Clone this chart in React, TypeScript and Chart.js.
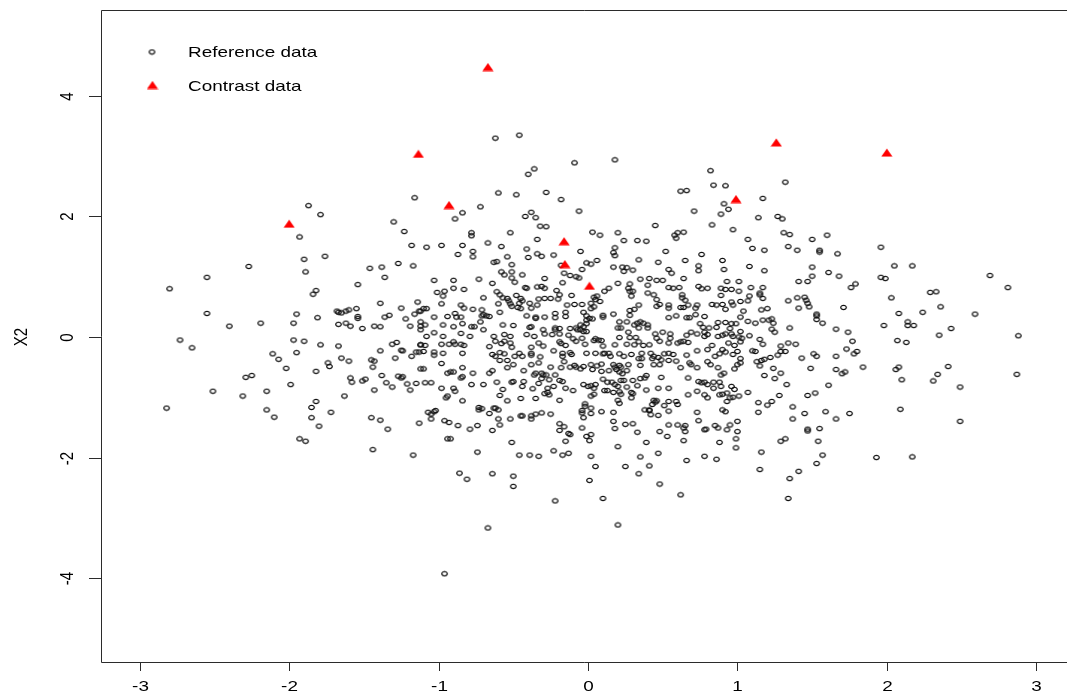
import React, { useEffect, useRef } from 'react';
import { Chart, registerables } from 'chart.js';

Chart.register(...registerables);

const xTicks = [-3, -2, -1, 0, 1, 2, 3];
const yTicks = [-4, -2, 0, 2, 4];
const xRange = [-3.259, 3.172];
const yRange = [-5.394, 5.427];
const yTitle = 'X2';
const legendLabels = ['Reference data', 'Contrast data'];

const contrastPoints: [number, number][] = [
  [-2.0, 1.88], [-1.135, 3.04], [-0.67, 4.48], [-0.93, 2.19], [-0.16, 1.59],
  [-0.155, 1.21], [0.01, 0.85], [0.99, 2.29], [1.26, 3.23], [2.0, 3.06],
];

const referenceLeft: [number, number][] = [
  [-1.93,1.66],[-1.23,1.75],[-1.18,1.52],[-1.90,1.29],[-1.76,1.34],[-2.27,1.17],[-1.89,1.08],[-1.46,1.14],[-1.38,1.16],[-1.27,1.22],[-1.17,1.18],[-2.55,0.99],[-1.36,0.99],[-2.80,0.80],[-1.54,0.87],[-1.82,0.77],[-1.84,0.71],[-1.39,0.56],[-1.14,0.58],[-1.68,0.43],[-1.67,0.41],[-1.65,0.40],[-1.62,0.43],[-1.60,0.45],[-1.55,0.47],[-1.25,0.48],[-2.55,0.39],[-1.95,0.38],[-1.81,0.32],[-1.54,0.34],[-1.54,0.31],[-1.36,0.33],[-1.33,0.36],[-1.22,0.30],[-1.16,0.38],[-1.13,0.43],[-2.40,0.18],[-2.19,0.23],[-1.97,0.23],[-1.67,0.21],[-1.62,0.23],[-1.59,0.18],[-1.51,0.14],[-1.43,0.18],[-1.39,0.17],[-1.19,0.18],[-1.12,0.18],[-2.73,-0.05],[-2.65,-0.18],[-1.97,-0.05],[-1.90,-0.07],[-1.79,-0.13],[-1.67,-0.15],[-1.95,-0.26],[-2.11,-0.28],[-2.07,-0.37],[-2.02,-0.52],[-1.39,-0.23],[-1.31,-0.12],[-1.28,-0.09],[-1.25,-0.22],[-1.24,-0.23],[-1.15,-0.25],[-1.13,-0.25],[-1.12,-0.13],[-1.29,-0.35],[-1.18,-0.32],[-1.65,-0.35],[-1.60,-0.40],[-1.74,-0.43],[-1.73,-0.49],[-1.82,-0.57],[-1.45,-0.38],[-1.43,-0.40],[-1.44,-0.50],[-1.12,-0.53],[-2.29,-0.67],[-2.25,-0.64],[-1.99,-0.79],[-1.59,-0.68],[-1.58,-0.75],[-1.51,-0.73],[-1.49,-0.70],[-1.38,-0.64],[-1.35,-0.76],[-1.31,-0.83],[-1.27,-0.65],[-1.25,-0.68],[-1.24,-0.66],[-1.21,-0.78],[-1.15,-0.77],[-1.19,-0.88],[-1.43,-0.88],[-2.51,-0.90],[-2.31,-0.98],[-2.15,-0.90],[-1.63,-0.98],[-2.82,-1.18],[-1.82,-1.07],[-1.85,-1.17],[-2.15,-1.21],[-2.10,-1.33],[-1.72,-1.25],[-1.85,-1.34],[-1.80,-1.48],[-1.45,-1.34],[-1.39,-1.38],[-1.34,-1.53],[-1.13,-1.43],[-1.93,-1.69],[-1.89,-1.73],
  [-1.87,2.18],[-1.79,2.03],[-1.30,1.91],[-1.16,2.31],[-1.44,-1.87],[-1.17,-1.96],
];

const referenceTop: [number, number][] = [
  [1.32,2.57],[1.17,2.30],[1.14,1.98],[1.27,2.00],[1.30,1.96],
  [-0.62,3.30],[-0.46,3.35],[-0.09,2.89],[0.18,2.94],[-0.36,2.79],[-0.40,2.70],[-0.60,2.39],[-0.48,2.36],[-0.28,2.40],[-0.18,2.28],[-0.72,2.16],[-0.84,2.06],[-0.89,1.96],[-0.38,2.07],[-0.42,2.00],[-0.35,1.98],[-0.32,1.84],[-0.28,1.83],[-0.06,2.09],[0.45,1.85],[0.62,2.42],[0.66,2.43],[0.82,2.76],[0.84,2.52],[0.92,2.51],[0.71,2.09],[0.91,2.21],[0.94,2.12],[0.89,2.04],[0.83,1.86],
];

const referenceRight: [number, number][] = [
  [1.31,1.73],[1.35,1.70],[1.07,1.62],[1.50,1.62],[1.60,1.69],[1.10,1.47],[1.18,1.44],[1.34,1.50],[1.40,1.44],[1.55,1.44],[1.55,1.41],[1.67,1.38],[1.96,1.49],[2.05,1.18],[2.17,1.18],[2.69,1.02],[2.81,0.82],[1.08,1.17],[1.18,1.10],[1.50,1.16],[1.50,1.01],[1.61,1.07],[1.68,1.01],[1.41,0.92],[1.47,0.92],[1.76,0.82],[1.79,0.88],[1.96,0.99],[1.99,0.97],[1.09,0.82],[1.17,0.82],[1.15,0.73],[1.15,0.70],[1.08,0.68],[1.17,0.64],[1.07,0.60],[1.34,0.60],[1.40,0.65],[1.45,0.66],[1.46,0.61],[1.47,0.56],[1.48,0.50],[1.41,0.48],[1.71,0.49],[2.03,0.65],[2.29,0.74],[2.33,0.75],[2.36,0.50],[2.24,0.41],[2.08,0.39],[2.59,0.38],[1.04,0.43],[1.16,0.45],[1.20,0.47],[1.53,0.38],[1.53,0.35],[1.53,0.29],[1.57,0.23],[1.07,0.26],[1.12,0.23],[1.17,0.28],[1.21,0.28],[1.23,0.30],[1.24,0.23],[1.23,0.13],[1.25,0.08],[1.35,0.15],[1.66,0.13],[1.74,0.08],[1.98,0.19],[2.14,0.25],[2.14,0.19],[2.18,0.19],[2.43,0.14],[2.35,0.03],[2.88,0.02],[1.03,-0.02],[1.08,0.02],[1.15,-0.04],[1.17,-0.12],[1.29,-0.15],[1.34,-0.10],[1.39,-0.12],[1.77,-0.07],[1.73,-0.20],[1.78,-0.28],[1.80,-0.24],[2.07,-0.06],[2.13,-0.09],[1.10,-0.23],[1.12,-0.24],[1.29,-0.24],[1.32,-0.24],[1.27,-0.30],[1.22,-0.34],[1.18,-0.37],[1.16,-0.39],[1.13,-0.41],[1.15,-0.48],[1.43,-0.35],[1.51,-0.28],[1.53,-0.32],[1.66,-0.32],[1.84,-0.50],[1.49,-0.52],[1.66,-0.54],[1.72,-0.58],[1.70,-0.61],[2.06,-0.54],[2.08,-0.50],[2.41,-0.49],[2.34,-0.62],[2.31,-0.73],[2.10,-0.71],[2.49,-0.83],[2.87,-0.62],[1.24,-0.52],[1.29,-0.60],[1.25,-0.69],[1.18,-0.64],[1.33,-0.79],[1.61,-0.80],[1.07,-0.92],[1.28,-0.97],[1.47,-0.97],[1.52,-0.93],[1.14,-1.09],[1.20,-1.13],[1.23,-1.07],[1.14,-1.25],[1.37,-1.16],[1.45,-1.27],[1.59,-1.24],[1.75,-1.27],[1.37,-1.36],[1.66,-1.36],[2.09,-1.20],[2.49,-1.40],[1.47,-1.53],[1.47,-1.56],[1.55,-1.52],[1.29,-1.73],[1.32,-1.69],[1.54,-1.73],
  [1.16,-1.91],[1.57,-1.96],[1.53,-2.10],[1.93,-2.00],[2.17,-1.99],[1.15,-2.20],[1.41,-2.23],[1.35,-2.35],[1.34,-2.68],
];

const referenceBottom: [number, number][] = [
  [-0.74,-1.91],[-0.46,-1.96],[-0.39,-1.96],[-0.33,-1.98],[-0.23,-1.89],[-0.17,-1.96],[-0.13,-1.93],[0.02,-1.98],[0.20,-1.82],[0.35,-1.99],[0.47,-1.93],[0.66,-2.05],[0.78,-1.98],[0.86,-2.03],[0.99,-1.84],[-0.86,-2.26],[-0.81,-2.36],[-0.64,-2.27],[-0.50,-2.31],[-0.50,-2.48],[0.05,-2.15],[0.01,-2.38],[0.25,-2.15],[0.41,-2.14],[0.34,-2.27],[0.48,-2.44],[0.62,-2.62],[0.10,-2.68],[-0.22,-2.72],[0.20,-3.12],[-0.67,-3.17],[-0.96,-3.93],
];

const referenceCentreUpper: [number, number][] = [
  [-0.78,1.73],[-0.78,1.68],[-0.52,1.73],[0.03,1.74],[0.08,1.69],[0.20,1.73],[0.58,1.69],[0.60,1.73],[0.64,1.74],[0.59,1.64],[0.97,1.78],
  [-1.08,1.49],[-0.98,1.52],[-0.84,1.52],[-0.67,1.56],[-0.58,1.50],[-0.34,1.62],[0.24,1.60],[0.33,1.60],[0.39,1.59],
  [-0.87,1.37],[-0.77,1.42],[-0.77,1.33],[-0.54,1.33],[-0.41,1.46],[-0.40,1.32],[-0.34,1.38],[-0.31,1.34],[-0.23,1.36],[-0.05,1.42],[0.18,1.48],[0.17,1.40],[0.18,1.35],[0.52,1.42],[0.76,1.37],
  [-0.63,1.24],[-0.61,1.25],[-0.51,1.20],[-0.18,1.19],[-0.01,1.23],[0.02,1.21],[0.06,1.27],[-0.04,1.12],[0.17,1.16],[0.23,1.16],[0.26,1.15],[0.24,1.09],[0.30,1.11],[0.34,1.28],[0.47,1.24],[0.54,1.12],[0.56,1.06],[0.65,1.27],[0.74,1.18],[0.74,1.10],[0.90,1.27],[0.91,1.12],
  [-0.58,1.08],[-0.56,1.03],[-0.51,1.08],[-0.44,1.03],[-0.51,0.98],[-0.16,1.06],[-0.12,1.02],[-0.08,1.00],[-0.06,0.98],[-1.03,0.94],[-0.90,0.94],[-0.73,0.96],[-0.29,0.97],[0.35,0.96],[0.41,0.97],[0.46,0.94],[0.50,0.94],[0.64,0.97],[1.01,0.92],[0.93,0.92],
  [-0.90,0.81],[-0.83,0.79],[-0.64,0.89],[-0.49,0.91],[-0.42,0.82],[-0.41,0.81],[-0.34,0.83],[-0.31,0.84],[-0.29,0.81],[-0.21,0.77],[-0.17,0.90],[0.11,0.76],[0.14,0.81],[0.20,0.89],[0.28,0.88],[0.27,0.81],[0.30,0.76],[0.40,0.86],[0.54,0.82],[0.57,0.81],[0.61,0.82],[0.74,0.84],[0.76,0.80],[0.80,0.81],[0.89,0.81],[0.92,0.79],[0.96,0.79],[-1.01,0.74],[-0.96,0.76],[-0.97,0.68],
  [-0.70,0.65],[-0.61,0.75],[-0.59,0.70],[-0.57,0.65],[-0.54,0.64],[-0.53,0.60],[-0.48,0.69],[-0.45,0.64],[-0.44,0.60],[-0.46,0.56],[-0.39,0.56],[-0.33,0.63],[-0.29,0.64],[-0.25,0.64],[-0.20,0.63],[-0.19,0.70],[-0.11,0.69],[0.04,0.66],[0.06,0.68],[0.05,0.62],[0.02,0.56],[0.08,0.59],[0.29,0.68],[0.28,0.76],[0.40,0.73],[0.44,0.70],[0.46,0.62],[0.48,0.54],[0.63,0.70],[0.63,0.65],[0.65,0.61],[0.89,0.69],[0.96,0.58],[1.01,0.76],
  [-1.10,0.47],[-1.08,0.47],[-0.98,0.55],[-0.85,0.53],[-0.83,0.48],[-0.77,0.46],[-0.71,0.45],[-0.70,0.37],[-0.66,0.34],[-0.60,0.55],[-0.52,0.55],[-0.51,0.51],[-0.47,0.49],[-0.45,0.47],[-0.38,0.48],[-0.34,0.53],[-0.14,0.53],[-0.09,0.54],[-0.04,0.54],[0.02,0.47],[0.04,0.50],[0.34,0.53],[0.28,0.44],[0.31,0.46],[0.46,0.51],[0.54,0.53],[0.54,0.48],[0.62,0.49],[0.64,0.49],[0.67,0.53],[0.72,0.48],[0.73,0.53],[0.83,0.54],[0.86,0.53],[0.90,0.54],[0.92,0.46],[0.97,0.53],[1.02,0.59],
  [-1.12,0.43],[-1.03,0.33],[-0.94,0.34],[-0.89,0.39],[-0.88,0.33],[-0.85,0.33],[-0.71,0.35],[-0.68,0.35],[-0.59,0.41],[-0.41,0.35],[-0.35,0.33],[-0.35,0.31],[-0.29,0.33],[-0.22,0.39],[-0.22,0.32],[-0.15,0.41],[-0.15,0.34],[-0.03,0.41],[-0.01,0.35],[0.01,0.31],[-0.01,0.28],[0.03,0.30],[0.10,0.36],[0.10,0.33],[0.17,0.38],[0.21,0.25],[0.26,0.25],[0.31,0.20],[0.33,0.23],[0.35,0.25],[0.37,0.23],[0.40,0.20],[0.40,0.15],[0.28,0.36],[0.54,0.32],[0.59,0.35],[0.66,0.32],[0.68,0.32],[0.72,0.37],[0.78,0.34],[0.75,0.22],[0.81,0.15],[0.86,0.16],[0.87,0.24],[0.92,0.24],[0.96,0.22],[0.99,0.22],[1.02,0.33],
  [-1.12,0.25],[-1.09,0.20],[-0.97,0.20],[-0.90,0.17],[-0.84,0.22],[-0.78,0.17],[-0.76,0.17],[-0.72,0.25],[-0.57,0.20],[-0.50,0.19],[-0.39,0.16],[-0.38,0.17],[-0.22,0.15],[-0.22,0.12],[-0.08,0.15],[-0.05,0.20],[-0.03,0.17],[-0.01,0.22],[-0.03,0.09],[-0.07,0.12],[-0.12,0.14],
];

const referenceCentreLower: [number, number][] = [
  [-1.12,0.12],[-1.08,0.01],[-1.03,0.07],[-0.97,0.01],[-0.85,0.06],[-0.79,0.01],[-0.70,0.12],[-0.63,0.01],[-0.56,0.04],[-0.52,0.01],[-0.41,0.04],[-0.36,0.01],[-0.30,0.12],[-0.29,0.05],[-0.24,0.04],[-0.19,0.05],[-0.19,0.14],[-0.13,0.03],[-0.10,-0.03],[-0.08,-0.07],[-0.05,0.12],[-0.04,-0.02],[-0.01,0.09],[0.05,-0.03],[0.07,-0.05],[0.09,-0.06],[0.20,0.15],[0.22,0.15],[0.21,-0.01],[0.27,0.08],[0.34,0.15],[0.28,-0.01],[0.32,-0.01],[0.45,0.05],[0.46,-0.02],[0.50,0.08],[0.55,0.05],[0.55,-0.02],[0.64,-0.07],[0.66,0.03],[0.69,0.08],[0.73,0.05],[0.77,0.16],[0.78,0.08],[0.78,0.01],[0.80,0.04],[0.87,0.01],[0.90,0.03],[0.92,0.05],[0.95,0.14],[0.96,0.05],[0.97,0.01],[1.01,0.00],[1.02,0.09],
  [-1.12,-0.13],[-1.09,-0.14],[-0.98,-0.12],[-0.93,-0.12],[-0.90,-0.08],[-0.89,-0.12],[-0.85,-0.12],[-0.83,-0.14],[-0.66,-0.16],[-0.62,-0.07],[-0.58,-0.11],[-0.56,-0.07],[-0.52,-0.10],[-0.51,-0.17],[-0.38,-0.17],[-0.33,-0.10],[-0.30,-0.15],[-0.19,-0.08],[-0.18,-0.11],[-0.15,-0.14],[-0.02,-0.12],[0.04,-0.06],[0.10,-0.15],[0.18,-0.13],[0.26,-0.12],[0.31,-0.13],[0.34,-0.08],[0.37,-0.14],[0.41,-0.13],[0.48,-0.07],[0.54,-0.10],[0.60,-0.10],[0.62,-0.08],[0.67,-0.09],[0.83,-0.14],[0.94,-0.10],[0.98,-0.14],[1.02,-0.08],
  [-1.10,-0.24],[-1.03,-0.25],[-1.03,-0.30],[-0.97,-0.27],[-0.84,-0.27],[-0.64,-0.29],[-0.62,-0.32],[-0.59,-0.26],[-0.56,-0.28],[-0.49,-0.32],[-0.46,-0.27],[-0.44,-0.32],[-0.38,-0.27],[-0.38,-0.30],[-0.32,-0.33],[-0.23,-0.23],[-0.17,-0.27],[-0.17,-0.32],[-0.11,-0.29],[-0.12,-0.26],[-0.01,-0.27],[0.05,-0.27],[0.10,-0.28],[0.11,-0.27],[0.14,-0.27],[0.15,-0.32],[0.21,-0.28],[0.24,-0.32],[0.29,-0.29],[0.36,-0.27],[0.36,-0.36],[0.42,-0.27],[0.44,-0.32],[0.47,-0.34],[0.49,-0.38],[0.51,-0.28],[0.54,-0.27],[0.57,-0.29],[0.66,-0.30],[0.73,-0.23],[0.80,-0.21],[0.85,-0.32],[0.88,-0.28],[0.90,-0.21],[0.92,-0.25],[1.00,-0.24],[0.97,-0.29],[1.02,-0.36],
  [-1.10,-0.53],[-0.98,-0.44],[-0.94,-0.60],[-0.92,-0.58],[-0.90,-0.58],[-0.84,-0.51],[-0.77,-0.60],[-0.66,-0.60],[-0.64,-0.56],[-0.59,-0.39],[-0.54,-0.39],[-0.54,-0.51],[-0.50,-0.46],[-0.43,-0.56],[-0.38,-0.46],[-0.35,-0.60],[-0.36,-0.63],[-0.33,-0.43],[-0.31,-0.60],[-0.30,-0.63],[-0.28,-0.63],[-0.25,-0.50],[-0.22,-0.63],[-0.18,-0.51],[-0.16,-0.41],[-0.12,-0.50],[-0.09,-0.47],[-0.08,-0.50],[-0.05,-0.53],[-0.03,-0.49],[0.02,-0.46],[0.03,-0.54],[0.06,-0.48],[0.09,-0.45],[0.09,-0.57],[0.14,-0.56],[0.17,-0.46],[0.18,-0.50],[0.19,-0.54],[0.21,-0.47],[0.22,-0.50],[0.21,-0.58],[0.23,-0.61],[0.26,-0.56],[0.27,-0.46],[0.34,-0.36],[0.35,-0.47],[0.39,-0.64],[0.43,-0.36],[0.44,-0.46],[0.48,-0.46],[0.54,-0.39],[0.59,-0.40],[0.62,-0.51],[0.68,-0.43],[0.69,-0.46],[0.73,-0.51],[0.80,-0.41],[0.82,-0.46],[0.87,-0.51],[0.89,-0.63],[0.91,-0.60],[0.98,-0.53],[1.00,-0.46],[1.02,-0.43],
  [-1.09,-0.76],[-1.05,-0.76],[-0.98,-0.85],[-0.90,-0.85],[-0.85,-0.68],[-0.84,-0.66],[-0.78,-0.79],[-0.70,-0.79],[-0.61,-0.75],[-0.57,-0.87],[-0.51,-0.75],[-0.50,-0.74],[-0.44,-0.82],[-0.43,-0.74],[-0.37,-0.86],[-0.33,-0.77],[-0.31,-0.69],[-0.29,-0.94],[-0.27,-0.92],[-0.27,-0.85],[-0.26,-0.71],[-0.23,-0.82],[-0.19,-0.72],[-0.17,-0.74],[-0.15,-0.85],[-0.10,-0.89],[-0.03,-0.79],[0.00,-0.82],[0.02,-0.81],[0.04,-0.85],[0.05,-0.79],[0.10,-0.70],[0.13,-0.75],[0.16,-0.75],[0.18,-0.79],[0.20,-0.82],[0.22,-0.72],[0.24,-0.72],[0.26,-0.83],[0.30,-0.72],[0.33,-0.81],[0.35,-0.69],[0.38,-0.68],[0.47,-0.85],[0.49,-0.67],[0.54,-0.85],[0.67,-0.68],[0.74,-0.74],[0.76,-0.76],[0.78,-0.75],[0.80,-0.79],[0.84,-0.75],[0.84,-0.85],[0.88,-0.75],[0.89,-0.82],[0.93,-0.93],[0.96,-0.82],[0.98,-0.87],
  [-0.95,-1.01],[-0.94,-0.98],[-0.89,-0.90],[-0.84,-1.06],[-0.73,-1.17],[-0.71,-1.19],[-0.62,-1.18],[-0.60,-1.21],[-0.59,-0.97],[-0.54,-1.06],[-0.45,-1.02],[-0.35,-1.02],[-0.26,-0.96],[-0.19,-1.05],[0.02,-0.98],[0.04,-0.95],[-0.02,-1.11],[-0.02,-1.15],[0.02,-1.18],[0.11,-0.89],[0.13,-0.89],[0.17,-0.92],[0.21,-0.91],[0.22,-0.95],[0.20,-1.05],[0.21,-1.10],[0.29,-0.92],[0.29,-1.01],[0.30,-0.94],[0.39,-0.88],[0.44,-1.05],[0.46,-1.06],[0.45,-1.08],[0.43,-1.12],[0.41,-1.21],[0.51,-1.14],[0.54,-1.07],[0.59,-1.07],[0.60,-1.12],[0.67,-0.96],[0.73,-0.90],[0.78,-0.96],[0.80,-1.01],[0.88,-0.96],[0.90,-0.95],[0.93,-1.07],[0.95,-1.01],[0.97,-1.00],[1.01,-0.98],
  [-1.07,-1.25],[-1.05,-1.28],[-1.03,-1.24],[-1.02,-1.22],[-1.05,-1.36],[-0.96,-1.39],[-0.93,-1.42],[-0.87,-1.47],[-0.79,-1.53],[-0.74,-1.47],[-0.73,-1.21],[-0.66,-1.27],[-0.63,-1.18],[-0.60,-1.36],[-0.59,-1.46],[-0.52,-1.36],[-0.45,-1.31],[-0.44,-1.31],[-0.38,-1.31],[-0.38,-1.36],[-0.35,-1.28],[-0.31,-1.26],[-0.25,-1.28],[-0.19,-1.44],[-0.13,-1.60],[-0.12,-1.62],[-0.04,-1.22],[-0.04,-1.26],[-0.03,-1.34],[0.02,-1.27],[0.09,-1.24],[0.17,-1.25],[0.17,-1.40],[0.18,-1.52],[0.25,-1.45],[0.30,-1.44],[0.38,-1.21],[0.41,-1.22],[0.42,-1.29],[0.47,-1.30],[0.54,-1.23],[0.54,-1.46],[0.60,-1.46],[0.64,-1.51],[0.65,-1.47],[0.73,-1.25],[0.74,-1.39],[0.78,-1.54],[0.79,-1.53],[0.85,-1.47],[0.87,-1.51],[0.90,-1.21],[0.92,-1.24],[0.93,-1.54],[0.95,-1.46],[1.00,-1.40],
  [-0.94,-1.69],[-0.92,-1.69],[-0.64,-1.55],[-0.51,-1.75],[-0.19,-1.55],[-0.16,-1.49],[-0.15,-1.73],[-0.04,-1.51],[-0.01,-1.65],[0.01,-1.72],[0.02,-1.62],[0.33,-1.58],[0.39,-1.75],[0.48,-1.57],[0.53,-1.65],[0.65,-1.57],[0.64,-1.72],[0.88,-1.75],[0.99,-1.69],[1.00,-1.57],
];

const referencePoints = [
  ...referenceLeft, ...referenceTop, ...referenceRight, ...referenceBottom,
  ...referenceCentreUpper, ...referenceCentreLower,
];

const STRETCH = 1.26;
const FONT = '15px "Liberation Sans", Arial, Helvetica, sans-serif';

function makeCircle(): HTMLCanvasElement {
  const c = document.createElement('canvas');
  c.width = 9; c.height = 7;
  const g = c.getContext('2d')!;
  g.strokeStyle = '#111111';
  g.lineWidth = 1.2;
  g.beginPath();
  g.ellipse(4.5, 3.5, 2.8, 2.05, 0, 0, Math.PI * 2);
  g.stroke();
  return c;
}

function makeTriangle(): HTMLCanvasElement {
  const c = document.createElement('canvas');
  c.width = 12; c.height = 9;
  const g = c.getContext('2d')!;
  g.fillStyle = '#ff0000';
  g.beginPath();
  g.moveTo(6, 0.6); g.lineTo(11.6, 8.4); g.lineTo(0.4, 8.4); g.closePath();
  g.fill();
  return c;
}

function drawText(ctx: CanvasRenderingContext2D, text: string, x: number, y: number, rot: number, align: CanvasTextAlign = 'center') {
  ctx.save();
  ctx.translate(x, y);
  ctx.scale(STRETCH, 1);
  ctx.rotate(rot);
  ctx.textAlign = align;
  ctx.textBaseline = 'middle';
  ctx.fillText(text, 0, 0);
  ctx.restore();
}

export default function App() {
  const ref = useRef<HTMLCanvasElement>(null);

  useEffect(() => {
    if (!ref.current) return;
    const circle = makeCircle();
    const tri = makeTriangle();

    const axesPlugin = {
      id: 'rStyleAxes',
      afterDraw(chart: any) {
        const { ctx, chartArea: a, scales } = chart;
        const xs = scales.x, ys = scales.y;
        ctx.save();
        ctx.strokeStyle = '#2b2b2b';
        ctx.lineWidth = 1;
        ctx.beginPath();
        ctx.moveTo(chart.width + 2, a.top + 0.5);
        ctx.lineTo(a.left + 0.5, a.top + 0.5);
        ctx.lineTo(a.left + 0.5, a.bottom + 0.5);
        ctx.lineTo(chart.width + 2, a.bottom + 0.5);
        ctx.stroke();

        ctx.fillStyle = '#000';
        ctx.font = FONT;
        for (const v of xTicks) {
          const px = Math.round(xs.getPixelForValue(v)) + 0.5;
          ctx.beginPath();
          ctx.moveTo(px, a.bottom);
          ctx.lineTo(px, a.bottom + 9);
          ctx.stroke();
          drawText(ctx, String(v), px, a.bottom + 25, 0);
        }
        for (const v of yTicks) {
          const py = Math.round(ys.getPixelForValue(v)) + 0.5;
          ctx.beginPath();
          ctx.moveTo(a.left, py);
          ctx.lineTo(a.left - 12, py);
          ctx.stroke();
          drawText(ctx, String(v), a.left - 33, py, -Math.PI / 2);
        }
        drawText(ctx, yTitle, a.left - 79, ys.getPixelForValue(0), -Math.PI / 2);

        // legend
        const lx = a.left + 51;
        const ly = a.top + 42;
        ctx.drawImage(circle, lx - circle.width / 2, ly - circle.height / 2);
        ctx.drawImage(tri, lx + 0.5 - tri.width / 2, ly + 33 - tri.height / 2);
        drawText(ctx, legendLabels[0], a.left + 87, ly + 1, 0, 'left');
        drawText(ctx, legendLabels[1], a.left + 87, ly + 35, 0, 'left');
        ctx.restore();
      },
    };

    const chart = new Chart(ref.current, {
      type: 'scatter',
      data: {
        datasets: [
          {
            label: legendLabels[1],
            data: contrastPoints.map(([x, y]) => ({ x, y })),
            pointStyle: tri as any,
            pointRadius: 4,
            order: 0,
          },
          {
            label: legendLabels[0],
            data: referencePoints.map(([x, y]) => ({ x, y })),
            pointStyle: circle as any,
            pointRadius: 3,
            order: 1,
          },
        ],
      },
      options: {
        responsive: false,
        animation: false,
        events: [],
        layout: { padding: { left: 101, top: 10, right: 0, bottom: 35 } },
        plugins: { legend: { display: false }, tooltip: { enabled: false } },
        scales: {
          x: { type: 'linear', min: xRange[0], max: xRange[1], display: false },
          y: { type: 'linear', min: yRange[0], max: yRange[1], display: false },
        },
      },
      plugins: [axesPlugin],
    });
    return () => chart.destroy();
  }, []);

  return (
    <div style={{ position: 'fixed', left: 0, top: 0, width: 1067, height: 697, background: '#fff', overflow: 'hidden' }}>
      <canvas ref={ref} width={1067} height={697} style={{ display: 'block' }} />
    </div>
  );
}
